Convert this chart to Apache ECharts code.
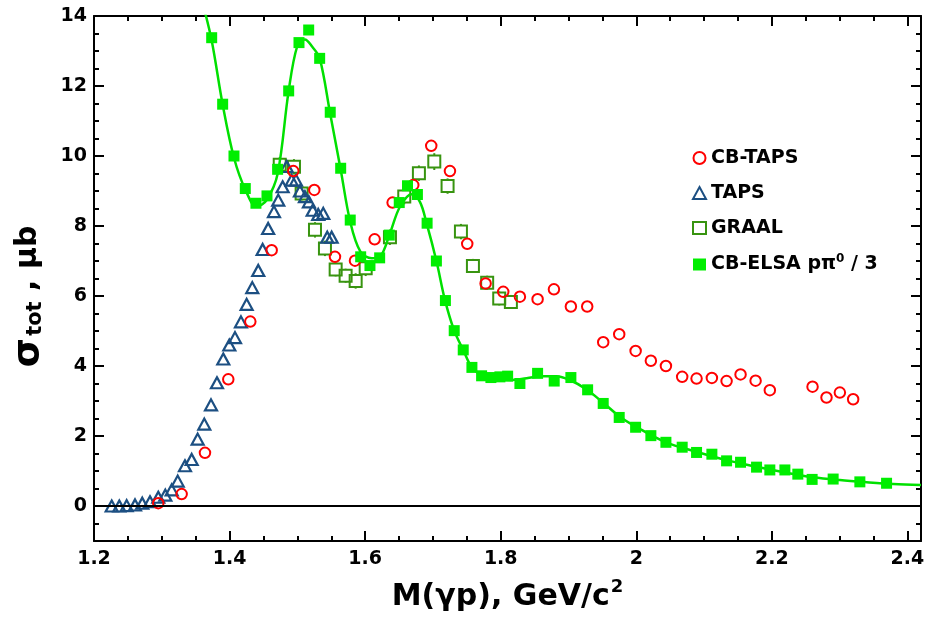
<!DOCTYPE html>
<html><head><meta charset="utf-8">
<script src="https://cdn.jsdelivr.net/npm/echarts@6/dist/echarts.min.js"></script>
<style>html,body{margin:0;padding:0;background:#fff}#c{width:932px;height:621px}</style>
</head><body><div id="c"></div>
<script>
// ---- data ----
const cbTapsX = [1.2948,1.3293,1.3637,1.3981,1.4306,1.4621,1.494,1.525,1.5555,1.585,1.614,1.6405,1.671,1.6975,1.7251,1.7506,1.7777,1.8037,1.8283,1.8544,1.8785,1.9035,1.9276,1.9512,1.9748,1.999,2.0215,2.0437,2.0677,2.0889,2.1115,2.1332,2.1538,2.176,2.197,2.26,2.2806,2.3003,2.3199];
const cbTapsY = [0.08,0.34,1.52,3.62,5.27,7.31,9.57,9.03,7.12,7.01,7.62,8.67,9.17,10.29,9.57,7.49,6.36,6.12,5.98,5.91,6.19,5.7,5.7,4.68,4.91,4.43,4.15,4.0,3.69,3.64,3.66,3.57,3.76,3.58,3.31,3.41,3.1,3.24,3.05];

const tapsX = [1.2261,1.2373,1.2482,1.2605,1.2712,1.2826,1.2948,1.3052,1.3146,1.3235,1.3342,1.3441,1.3529,1.3627,1.3726,1.3814,1.3907,1.3996,1.408,1.4168,1.4252,1.4335,1.4423,1.4488,1.4569,1.4655,1.4718,1.4783,1.4842,1.4916,1.498,1.5038,1.5112,1.5171,1.5226,1.5308,1.5382,1.5441,1.5506];
const tapsY = [0.0,0.0,0.01,0.03,0.08,0.12,0.25,0.31,0.46,0.71,1.15,1.33,1.91,2.34,2.89,3.52,4.2,4.6,4.81,5.26,5.76,6.24,6.73,7.33,7.93,8.41,8.74,9.12,9.7,9.31,9.31,9.0,8.84,8.69,8.45,8.33,8.36,7.68,7.68];

const graalX = [1.474,1.495,1.5063,1.526,1.5407,1.5565,1.5712,1.586,1.6008,1.6366,1.6577,1.6793,1.702,1.7216,1.7413,1.759,1.78,1.7978,1.815];
const graalY = [9.75,9.69,8.93,7.89,7.36,6.76,6.58,6.43,6.79,7.68,8.84,9.51,9.84,9.14,7.84,6.86,6.38,5.93,5.83];
const graalErr = [0.22,0.22,0.2,0.22,0.22,0.2,0.2,0.22,0.22,0.22,0.22,0.22,0.24,0.22,0.22,0.2,0.2,0.2,0.2];

const elsaX = [1.3736,1.3898,1.4065,1.4232,1.4389,1.4552,1.4709,1.4872,1.5024,1.5167,1.5329,1.5485,1.5639,1.578,1.5934,1.6071,1.6214,1.6356,1.6503,1.6625,1.6771,1.6914,1.7051,1.7184,1.7314,1.7447,1.7575,1.7718,1.7855,1.7988,1.8102,1.8283,1.8544,1.8789,1.9035,1.9282,1.9512,1.9748,1.999,2.0215,2.0437,2.0677,2.0889,2.1115,2.1332,2.1538,2.1774,2.197,2.2192,2.2383,2.2594,2.2904,2.3298,2.3692];
const elsaY = [13.38,11.48,10.0,9.07,8.65,8.86,9.62,11.86,13.24,13.6,12.79,11.25,9.65,8.17,7.12,6.87,7.09,7.74,8.67,9.15,8.9,8.08,7.0,5.87,5.01,4.46,3.96,3.72,3.67,3.69,3.71,3.5,3.79,3.57,3.67,3.32,2.93,2.53,2.25,2.01,1.82,1.68,1.53,1.48,1.29,1.25,1.11,1.03,1.03,0.91,0.76,0.77,0.69,0.65];

const fitX = [1.3605,1.3736,1.39,1.4065,1.423,1.44,1.455,1.471,1.487,1.5,1.511,1.522,1.533,1.5485,1.564,1.578,1.593,1.61,1.6218,1.6366,1.6513,1.6686,1.6808,1.6906,1.7054,1.7177,1.7314,1.7447,1.7575,1.7718,1.7841,1.8136,1.8382,1.8627,1.8824,1.902,1.9267,1.9512,1.9758,1.999,2.0437,2.0889,2.1332,2.1774,2.2216,2.261,2.3003,2.3397,2.3789,2.42];
const fitY = [14.35,13.3,11.45,9.95,9.05,8.55,8.75,9.5,11.84,13.15,13.33,13.12,12.79,11.2,9.6,8.12,7.27,7.08,7.12,7.79,8.55,8.91,8.69,8.08,6.98,5.89,5.01,4.46,3.96,3.74,3.65,3.6,3.65,3.71,3.71,3.6,3.33,2.95,2.55,2.27,1.82,1.55,1.31,1.12,0.95,0.82,0.74,0.68,0.63,0.6];

const xMajor = [1.2,1.4,1.6,1.8,2.0,2.2,2.4];
const xMinor = [1.25,1.3,1.35,1.45,1.5,1.55,1.65,1.7,1.75,1.85,1.9,1.95,2.05,2.1,2.15,2.25,2.3,2.35];
const yMajor = [0,2,4,6,8,10,12,14];
const yMinor = [-0.5,0.5,1,1.5,2.5,3,3.5,4.5,5,5.5,6.5,7,7.5,8.5,9,9.5,10.5,11,11.5,12.5,13,13.5];

const names = ['CB-TAPS','TAPS','GRAAL','CB-ELSA'];

// ---- chart ----
const FONT = 'DejaVu Sans';
const zip = (xs, ys) => xs.map((x, i) => [x, ys[i]]);
const C_RED = '#ff0000', C_BLUE = '#1c4f82', C_DG = '#389410', C_G = '#00ee00';

function xAx(pos, ticks, len, labels) {
  return {
    type: 'value', position: pos, min: 1.2, max: 2.42,
    axisLine: { show: len === 10, onZero: false, lineStyle: { color: '#000', width: 2 } },
    axisTick: { show: true, inside: true, length: len, customValues: ticks, lineStyle: { color: '#000', width: 2 } },
    axisLabel: labels ? { show: true, customValues: xMajor, margin: 9, color: '#000', fontFamily: FONT, fontWeight: 'bold', fontSize: 19,
      formatter: v => String(Number(v.toFixed(2))) } : { show: false },
    splitLine: { show: false }
  };
}
function yAx(pos, ticks, len, labels) {
  return {
    type: 'value', position: pos, min: -1, max: 14,
    axisLine: { show: len === 10, onZero: false, lineStyle: { color: '#000', width: 2 } },
    axisTick: { show: true, inside: true, length: len, customValues: ticks, lineStyle: { color: '#000', width: 2 } },
    axisLabel: labels ? { show: true, customValues: yMajor, margin: 7, color: '#000', fontFamily: FONT, fontWeight: 'bold', fontSize: 19 } : { show: false },
    splitLine: { show: false }
  };
}

const xs = [xAx('bottom', xMajor, 10, true), xAx('bottom', xMinor, 5), xAx('top', xMajor, 10), xAx('top', xMinor, 5)];
Object.assign(xs[0], {
  name: '{m|M(γp), GeV/c}{s|2}', nameLocation: 'middle', nameGap: 40,
  nameTextStyle: { rich: {
    m: { fontFamily: FONT, fontWeight: 'bold', fontSize: 30, color: '#000', lineHeight: 32 },
    s: { fontFamily: FONT, fontWeight: 'bold', fontSize: 18, color: '#000', lineHeight: 18, padding: [0, 0, 20, 1] }
  } }
});
const ys = [yAx('left', yMajor, 10, true), yAx('left', yMinor, 5), yAx('right', yMajor, 10), yAx('right', yMinor, 5)];
Object.assign(ys[0], {
  name: '{g|σ}{b|tot}{m| , μb}', nameLocation: 'middle', nameGap: 48, nameRotate: 90,
  nameTextStyle: { padding: [0, 36, 0, 0], rich: {
    g: { fontFamily: FONT, fontWeight: 'bold', fontSize: 38, color: '#000', lineHeight: 36 },
    b: { fontFamily: FONT, fontWeight: 'bold', fontSize: 21, color: '#000', lineHeight: 21, padding: [15, 0, 0, 2] },
    m: { fontFamily: FONT, fontWeight: 'bold', fontSize: 30, color: '#000', lineHeight: 36 }
  } }
});

const hollow = c => ({ color: 'rgba(255,255,255,0)', borderColor: c, borderWidth: 2, opacity: 1 });

const option = {
  animation: false,
  grid: { left: 94, right: 11, top: 16, bottom: 80 },
  xAxis: xs,
  yAxis: ys,
  legend: {
    orient: 'vertical', left: 687, top: 143, itemWidth: 13, itemHeight: 12, itemGap: 15,
    textStyle: { fontFamily: FONT, fontWeight: 'bold', fontSize: 19, color: '#000', lineHeight: 20,
      rich: {
        t: { fontFamily: FONT, fontWeight: 'bold', fontSize: 19, color: '#000', lineHeight: 20 },
        s: { fontFamily: FONT, fontWeight: 'bold', fontSize: 12, color: '#000', lineHeight: 12, padding: [0, 0, 11, 0] }
      } },
    formatter: n => n === 'CB-ELSA' ? '{t|CB-ELSA pπ}{s|0}{t| / 3}' : n,
    data: [
      { name: names[0], icon: 'circle', itemStyle: hollow(C_RED) },
      { name: names[1], icon: 'triangle', itemStyle: hollow(C_BLUE) },
      { name: names[2], icon: 'rect', itemStyle: hollow(C_DG) },
      { name: names[3], icon: 'rect', itemStyle: { color: C_G, borderWidth: 0, opacity: 1 } }
    ]
  },
  series: [
    {
      name: 'GRAAL-err', type: 'custom', silent: true, z: 1,
      data: graalX.map((x, i) => [x, graalY[i], graalErr[i]]),
      renderItem: (params, api) => {
        const c = api.coord([api.value(0), api.value(1)]);
        const top = api.coord([api.value(0), api.value(1) + api.value(2)]);
        const bot = api.coord([api.value(0), api.value(1) - api.value(2)]);
        const h = 6;
        const st = { stroke: C_DG, lineWidth: 2 };
        return { type: 'group', children: [
          { type: 'line', shape: { x1: c[0], y1: top[1], x2: c[0], y2: c[1] - h }, style: st },
          { type: 'line', shape: { x1: c[0], y1: c[1] + h, x2: c[0], y2: bot[1] }, style: st }
        ] };
      },
      markLine: { silent: true, symbol: 'none', label: { show: false },
        lineStyle: { color: '#000', width: 2, type: 'solid' }, data: [{ yAxis: 0 }] }
    },
    { name: names[2], type: 'scatter', symbol: 'rect', symbolSize: 12, z: 2,
      itemStyle: hollow(C_DG), data: zip(graalX, graalY) },
    { name: names[1], type: 'scatter', symbol: 'triangle', symbolSize: [12, 11], z: 3,
      itemStyle: Object.assign(hollow(C_BLUE), { borderWidth: 2.2 }), data: zip(tapsX, tapsY) },
    { name: names[0], type: 'scatter', symbol: 'circle', symbolSize: 10.5, z: 4,
      itemStyle: hollow(C_RED), data: zip(cbTapsX, cbTapsY) },
    { name: 'fit', type: 'line', smooth: 0.35, showSymbol: false, z: 5, clip: true,
      lineStyle: { color: '#00e000', width: 2.5 }, data: zip(fitX, fitY) },
    { name: names[3], type: 'scatter', symbol: 'rect', symbolSize: 11, z: 6,
      itemStyle: { color: C_G, opacity: 1 }, data: zip(elsaX, elsaY) }
  ]
};
const chart = echarts.init(document.getElementById('c'), null, { renderer: 'canvas' });
chart.setOption(option);
</script></body></html>
